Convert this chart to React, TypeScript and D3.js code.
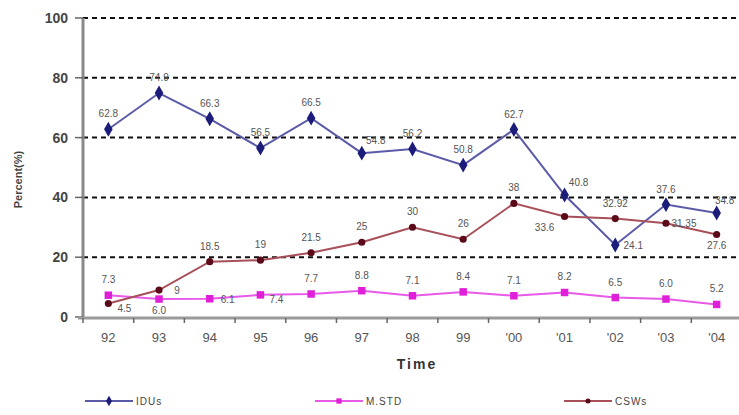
import { useEffect, useRef } from "react";
import * as d3 from "d3";

const years = ["92", "93", "94", "95", "96", "97", "98", "99", "'00", "'01", "'02", "'03", "'04"];
const idus = [62.8, 74.9, 66.3, 56.5, 66.5, 54.8, 56.2, 50.8, 62.7, 40.8, 24.1, 37.6, 34.8];
const mstd = [7.3, 6.0, 6.1, 7.4, 7.7, 8.8, 7.1, 8.4, 7.1, 8.2, 6.5, 6.0, 4.2];
const csws = [4.5, 9, 18.5, 19, 21.5, 25, 30, 26, 38, 33.6, 32.92, 31.35, 27.6];
const mstdText = ["7.3", "6.0", "6.1", "7.4", "7.7", "8.8", "7.1", "8.4", "7.1", "8.2", "6.5", "6.0", "5.2"];
const yTicks = [0, 20, 40, 60, 80, 100];

// where each value label sits: a = above, b = below, r = right, ar = above right, br = below right, bl = below left
const idusPos = ["a", "a", "a", "a", "a", "ar", "a", "a", "a", "ar", "r", "a", "ae"];
const mstdPos = ["a", "b", "r", "br", "a", "a", "a", "a", "a", "a", "a", "a", "a"];
const cswsPos = ["br", "r", "a", "a", "a", "a", "a", "a", "a", "bl", "a", "r", "b"];

const offsets = {
  a: [0, -12],
  b: [0, 15],
  r: [18, 4],
  ar: [14, -9],
  ae: [8, -9],
  br: [16, 8],
  bl: [-20, 14],
};

const series = [
  { name: "IDUs", values: idus, labels: idus.map(String), pos: idusPos, line: "#5a5aa8", fill: "#1c1c7a", shape: "diamond", size: 64 },
  { name: "M.STD", values: mstd, labels: mstdText, pos: mstdPos, line: "#e85ae8", fill: "#e020d8", shape: "square", size: 56 },
  { name: "CSWs", values: csws, labels: csws.map(String), pos: cswsPos, line: "#a8505a", fill: "#5a0a18", shape: "circle", size: 40 },
];

const symbols = { diamond: d3.symbolDiamond, square: d3.symbolSquare, circle: d3.symbolCircle };

export default function App() {
  const svgRef = useRef(null);
  const width = 739;
  const height = 415;

  useEffect(() => {
    const svg = d3.select(svgRef.current);
    svg.selectAll("*").remove();

    const x = d3.scaleBand().domain(years).range([83, 742]);
    const y = d3.scaleLinear().domain([0, 100]).range([317, 18]);
    const cx = (i) => x(years[i]) + x.bandwidth() / 2;
    const font = "'Liberation Sans', Arial, sans-serif";

    // grid
    svg.append("g")
      .selectAll("line")
      .data(yTicks.filter((d) => d > 0))
      .enter()
      .append("line")
      .attr("x1", 83)
      .attr("x2", width)
      .attr("y1", (d) => y(d))
      .attr("y2", (d) => y(d))
      .attr("stroke", "#111")
      .attr("stroke-width", 2)
      .attr("stroke-dasharray", "5,4");

    // y axis
    svg.append("line")
      .attr("x1", 83).attr("x2", 83)
      .attr("y1", y(100)).attr("y2", y(0) + 2)
      .attr("stroke", "#8a8a8a").attr("stroke-width", 3);
    svg.append("g")
      .selectAll("line")
      .data(yTicks)
      .enter()
      .append("line")
      .attr("x1", 75).attr("x2", 83)
      .attr("y1", (d) => y(d)).attr("y2", (d) => y(d))
      .attr("stroke", "#666").attr("stroke-width", 1.5);
    svg.append("g")
      .selectAll("text")
      .data(yTicks)
      .enter()
      .append("text")
      .attr("x", 68)
      .attr("y", (d) => y(d))
      .attr("dy", "0.36em")
      .attr("text-anchor", "end")
      .style("font-family", font)
      .style("font-size", "14px")
      .style("font-weight", "bold")
      .style("fill", "#444")
      .text((d) => d);

    svg.append("text")
      .attr("transform", `translate(22,${y(50) + 12}) rotate(-90)`)
      .attr("text-anchor", "middle")
      .style("font-family", font)
      .style("font-size", "11px")
      .style("font-weight", "bold")
      .style("fill", "#444")
      .text("Percent(%)");

    // x axis
    svg.append("line")
      .attr("x1", 78).attr("x2", width)
      .attr("y1", y(0) + 1).attr("y2", y(0) + 1)
      .attr("stroke", "#9a9a9a").attr("stroke-width", 3);
    svg.append("g")
      .selectAll("line")
      .data(years)
      .enter()
      .append("line")
      .attr("x1", (d) => x(d)).attr("x2", (d) => x(d))
      .attr("y1", y(0) + 1).attr("y2", y(0) + 6)
      .attr("stroke", "#666").attr("stroke-width", 1.5);
    svg.append("g")
      .selectAll("text")
      .data(years)
      .enter()
      .append("text")
      .attr("x", (d) => x(d) + x.bandwidth() / 2)
      .attr("y", 342)
      .attr("text-anchor", "middle")
      .style("font-family", font)
      .style("font-size", "13px")
      .style("fill", "#555")
      .text((d) => d);

    svg.append("text")
      .attr("x", 417)
      .attr("y", 369)
      .attr("text-anchor", "middle")
      .style("font-family", font)
      .style("font-size", "14px")
      .style("font-weight", "bold")
      .style("letter-spacing", "2px")
      .style("fill", "#333")
      .text("Time");

    // series
    series.forEach((s) => {
      const line = d3.line().x((d, i) => cx(i)).y((d) => y(d));
      svg.append("path")
        .datum(s.values)
        .attr("fill", "none")
        .attr("stroke", s.line)
        .attr("stroke-width", 2)
        .attr("d", line);

      svg.append("g")
        .selectAll("path")
        .data(s.values)
        .enter()
        .append("path")
        .attr("transform", (d, i) => `translate(${cx(i)},${y(d)})`)
        .attr("d", d3.symbol().type(symbols[s.shape]).size(s.size))
        .attr("fill", s.fill);

      svg.append("g")
        .selectAll("text")
        .data(s.values)
        .enter()
        .append("text")
        .attr("x", (d, i) => cx(i) + offsets[s.pos[i]][0])
        .attr("y", (d, i) => y(d) + offsets[s.pos[i]][1])
        .attr("text-anchor", "middle")
        .style("font-family", font)
        .style("font-size", "10px")
        .style("fill", "#555")
        .text((d, i) => s.labels[i]);
    });

    // legend
    const legendX = [85, 315, 564];
    series.forEach((s, i) => {
      const g = svg.append("g").attr("transform", `translate(${legendX[i]},401)`);
      g.append("line")
        .attr("x1", 0).attr("x2", 48)
        .attr("stroke", s.line).attr("stroke-width", 2);
      g.append("path")
        .attr("transform", "translate(24,0)")
        .attr("d", d3.symbol().type(symbols[s.shape]).size(s.size * 0.5))
        .attr("fill", s.fill);
      g.append("text")
        .attr("x", 51)
        .attr("dy", "0.36em")
        .style("font-family", font)
        .style("font-size", "10px")
        .style("letter-spacing", "1px")
        .style("fill", "#444")
        .text(s.name);
    });
  }, []);

  return (
    <svg
      ref={svgRef}
      width={width}
      height={height}
      style={{ position: "absolute", left: 0, top: 0, background: "#fff" }}
    ></svg>
  );
}
